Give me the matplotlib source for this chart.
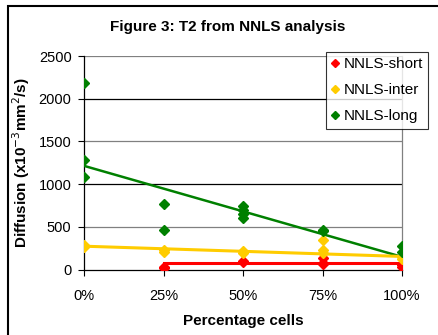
import numpy as np
import matplotlib.pyplot as plt
from matplotlib.patches import Rectangle

plt.rcParams['font.family'] = ['Liberation Sans', 'DejaVu Sans']

pct = [0, 25, 50, 75, 100]
tick_labels = ['0%', '25%', '50%', '75%', '100%']

# scatter points (x in % cells, y in 10^-3 mm2/s)
short_x = [25, 25, 50, 50, 75, 75, 75, 100, 100]
short_y = [30, 25, 100, 90, 140, 80, 70, 50, 30]
inter_x = [0, 0, 25, 25, 50, 50, 75, 75, 75, 100, 100]
inter_y = [290, 270, 230, 210, 220, 200, 350, 230, 200, 150, 130]
long_x = [0, 0, 0, 25, 25, 50, 50, 50, 50, 75, 75, 100, 100]
long_y = [2180, 1280, 1090, 770, 460, 740, 700, 650, 610, 470, 450, 280, 210]

# trend lines (start/end) as drawn in the original
short_trend_x = [25, 100]
short_trend_y = [75, 75]
inter_trend_x = [0, 100]
inter_trend_y = [275, 155]
long_trend_x = [0, 100]
long_trend_y = [1215, 150]

fig = plt.figure(figsize=(4.38, 3.35), dpi=100)
W, H = 438, 335
ax = fig.add_axes([84 / W, 1 - 269.7 / H, (402 - 84) / W, (269.7 - 56) / H])

red, yellow, green = '#ff0000', '#ffcc00', '#008000'

ax.plot(long_trend_x, long_trend_y, color=green, lw=1.8, zorder=3)
ax.plot(inter_trend_x, inter_trend_y, color=yellow, lw=2.2, zorder=3)
ax.plot(short_trend_x, short_trend_y, color=red, lw=2.2, zorder=3)

ax.plot(short_x, short_y, 'D', color=red, ms=5, ls='none', label='NNLS-short', zorder=4)
ax.plot(inter_x, inter_y, 'D', color=yellow, ms=5, ls='none', label='NNLS-inter', zorder=4)
ax.plot(long_x, long_y, 'D', color=green, ms=5, ls='none', label='NNLS-long', zorder=4)

ax.set_xlim(0, 100)
ax.set_ylim(0, 2500)
ax.set_xticks(pct)
ax.set_xticklabels(tick_labels)
ax.set_yticks([0, 500, 1000, 1500, 2000, 2500])
for yv in [500, 1000, 1500, 2000, 2500]:
    ax.axhline(yv, color='#000000' if yv in (1000, 2000) else '#808080', lw=0.9, zorder=1)

ax.spines['top'].set_visible(False)
ax.spines['right'].set_color('#808080')
ax.spines['left'].set_color('black')
ax.spines['bottom'].set_color('black')
for s in ax.spines.values():
    s.set_linewidth(0.9)
ax.tick_params(axis='both', labelsize=10.5, length=4, width=0.8, direction='out')
ax.tick_params(axis='y', pad=5)
ax.tick_params(axis='x', pad=10)

ax.set_xlabel('Percentage cells', fontsize=11, fontweight='bold', labelpad=8)
ax.set_ylabel('Diffusion (x10$^{-3}$mm$^2$/s)', fontsize=11, fontweight='bold', labelpad=5)
fig.text(228 / W, 1 - 27 / H, 'Figure 3: T2 from NNLS analysis', ha='center', va='center',
         fontsize=11, fontweight='bold')

leg = fig.legend(loc='upper right', bbox_to_anchor=(428 / W, 1 - 52 / H), fontsize=11,
                 frameon=True, fancybox=False, edgecolor='black', handlelength=0.5,
                 handletextpad=0.3, borderpad=0.35, labelspacing=0.78, borderaxespad=0,
                 markerscale=0.8)
leg.get_frame().set_linewidth(0.8)

fig.patches.append(Rectangle((8 / W, -0.1), 1.0, 1 - 6 / H + 0.1, transform=fig.transFigure,
                             fill=False, edgecolor='black', lw=1.5))

fig.savefig('out.png', dpi=100)
